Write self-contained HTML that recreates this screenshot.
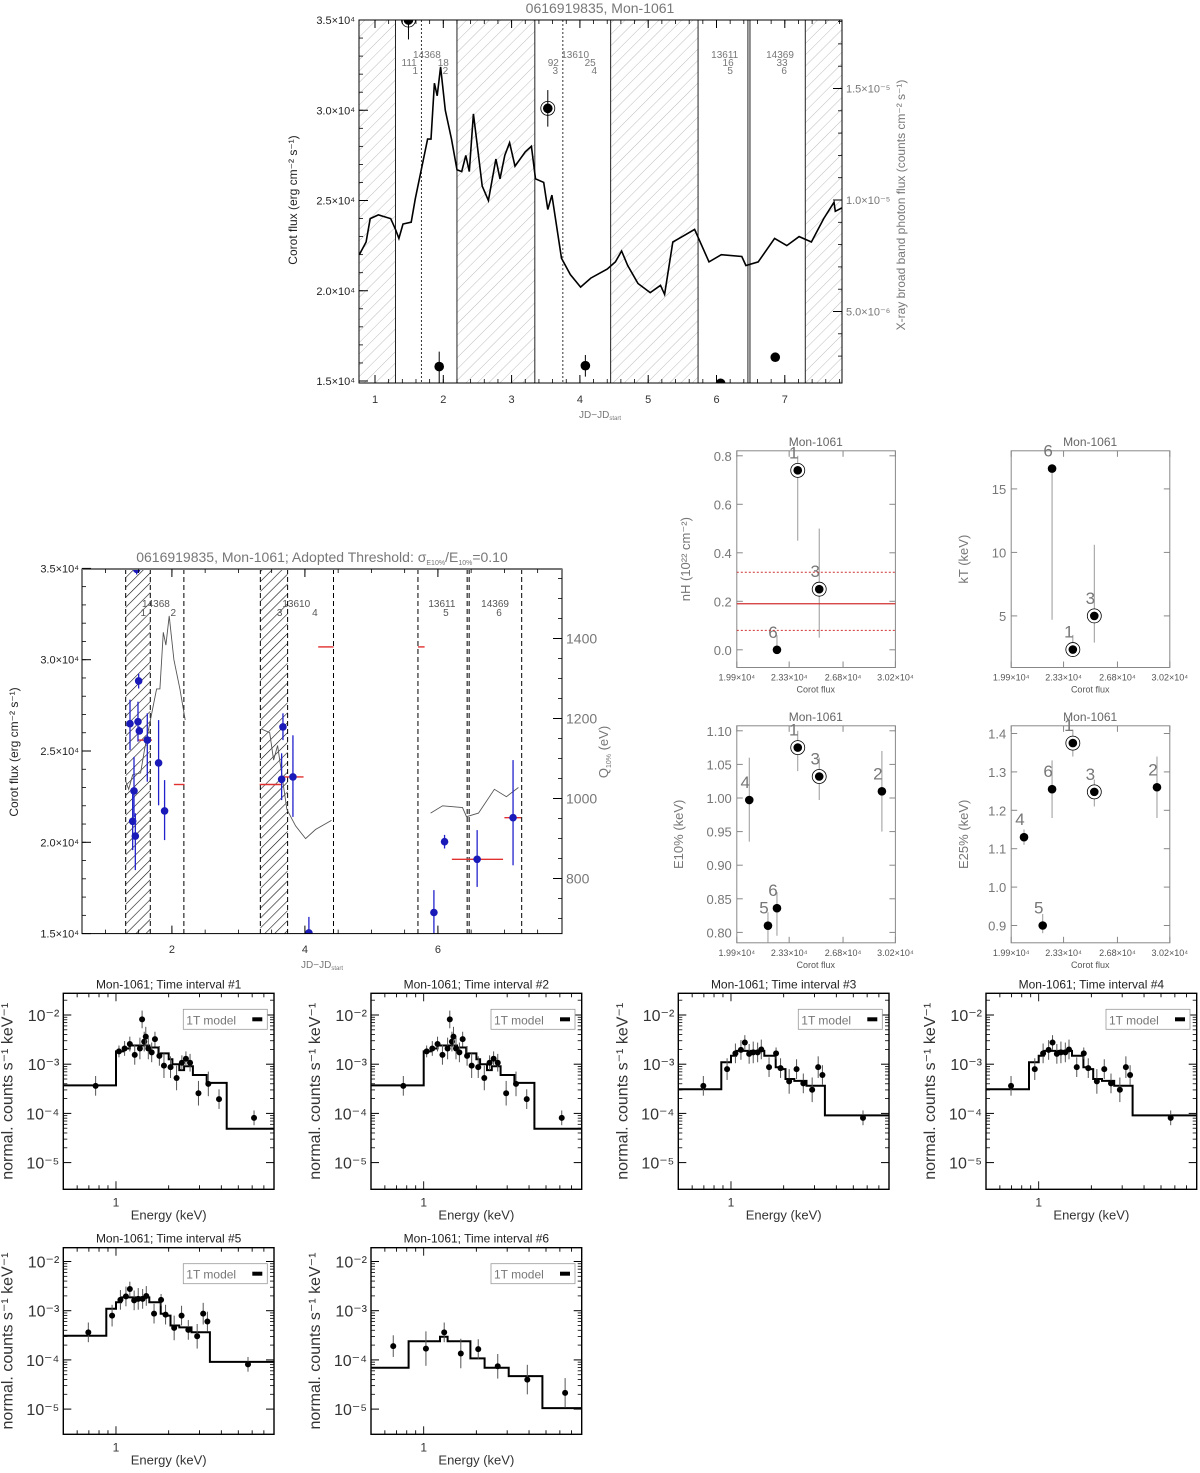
<!DOCTYPE html>
<html><head><meta charset="utf-8">
<style>
body{margin:0;background:#fff}
svg{display:block;font-family:"Liberation Sans","DejaVu Sans",sans-serif}
</style></head>
<body>
<svg id="fig" xmlns="http://www.w3.org/2000/svg" width="1200" height="1473" viewBox="0 0 1200 1473">
<defs>
<pattern id="hatchLight" patternUnits="userSpaceOnUse" width="8" height="8" patternTransform="rotate(45)">
<line x1="0" y1="0" x2="0" y2="8" stroke="#bdbdbd" stroke-width="1"/>
</pattern>
<pattern id="hatchDark" patternUnits="userSpaceOnUse" width="7" height="7" patternTransform="rotate(45)">
<line x1="0" y1="0" x2="0" y2="7" stroke="#111" stroke-width="1.2"/>
</pattern>
<clipPath id="clipTop"><rect x="359" y="20" width="483" height="363"/></clipPath>
<clipPath id="clipMid"><rect x="82" y="569" width="480" height="365"/></clipPath>
</defs>
</svg>
<script>
// ---------- DATA: top light curve ----------
const lcDays=[0.77,0.87,0.93,1.05,1.23,1.30,1.35,1.41,1.53,1.59,1.65,1.71,1.77,1.82,1.87,1.91,1.96,2.03,2.12,2.20,2.27,2.33,2.38,2.44,2.50,2.57,2.66,2.77,2.83,2.90,2.97,3.05,3.20,3.29,3.35,3.47,3.53,3.59,3.73,3.86,4.01,4.16,4.40,4.52,4.61,4.70,4.85,5.03,5.18,5.24,5.36,5.50,5.68,5.89,6.07,6.37,6.43,6.61,6.85,7.03,7.21,7.39,7.57,7.72,7.74,7.84];
const lcFlux=[22000,22700,24000,24200,24000,23400,22900,23700,23800,25100,26200,27300,28400,28400,31500,30800,32400,30000,28400,26700,26600,27500,26600,29800,28000,25800,25000,27300,26200,27500,28200,26900,27700,28000,26200,26000,24500,25300,21800,20900,20200,20700,21200,21600,22200,21400,20400,19900,20300,19800,22700,23000,23400,21600,22000,21900,21400,21600,22900,22500,23000,22700,24000,24900,24400,24600];
const topHatch=[[0.77,1.30],[2.20,3.34],[4.45,5.73],[7.30,7.9]];
const topSolid=[1.30,2.20,3.34,4.45,5.73,6.46,6.49,7.30];
const topDotted=[1.68,3.75];
const xrDays=[1.49,1.94,3.53,4.08,6.06,6.86];
const xrVal=[18.07,2.53,14.11,2.57,1.78,2.95]; // units 1e-6
const xrLo=[17.2,1.79,13.29,2.08,1.78,2.95];
const xrHi=[18.97,3.2,14.93,3.05,1.78,2.95];
const xrCircled=[1,0,1,0,0,0];
const obsIds=["14368","13610","13611","14369"];
const obsIdDays=[1.76,3.93,6.12,6.93];
const cntLabels=["111","18","92","25","16","33"];
const cntDays=[1.50,2.00,3.61,4.15,6.17,6.96];
const intLabels=["1","2","3","4","5","6"];
const intDays=[1.59,2.03,3.64,4.21,6.20,6.99];
const topXTicks=[1,2,3,4,5,6,7];
const leftTicks=[35000,30000,25000,20000,15000];
const leftTickLabels=["3.5×10⁴","3.0×10⁴","2.5×10⁴","2.0×10⁴","1.5×10⁴"];
const rightTicks=[15,10,5];
const rightTickLabels=["1.5×10⁻⁵","1.0×10⁻⁵","5.0×10⁻⁶"];

// ---------- DATA: middle plot ----------
const midHatch=[[1.305,1.675],[3.33,3.74]];
const midDashed=[1.305,1.675,2.18,3.33,3.74,4.43,5.70,6.44,6.47,7.26];
const midSegments=[[1.30,2.20],[3.34,4.45],[5.73,7.30]];
const qDays=[1.47,1.50,1.37,1.49,1.51,1.63,1.43,1.41,1.45,1.80,1.89,3.67,3.65,3.82,4.06,5.94,6.10,6.59,7.13];
const qVal=[1573,1294,1187,1192,1169,1146,1019,943,906,1089,969,1179,1048,1054,664,715,892,848,952];
const qLo=[1560,1275,1121,1142,1160,1042,954,871,821,983,896,1146,996,954,663,663,875,779,833];
const qHi=[1573,1312,1247,1242,1180,1213,1104,1013,963,1196,1046,1213,1113,1158,704,771,909,921,1096];
const redStart=[1.49,2.03,3.32,3.69,4.20,5.70,6.21,7.00];
const redEnd=[1.70,2.19,3.66,3.98,4.43,5.80,6.98,7.25];
const redVal=[1146,1035,1035,1054,1379,1379,848,952];
const midXTicks=[2,4,6];
const midRightTicks=[1400,1200,1000,800];
const midObsDays=[1.76,3.87,6.06,6.86];
const midIntDays=[1.57,2.02,3.62,4.15,6.12,6.92];

// ---------- DATA: scatter plots ----------
const nhFlux=[23858,25253,22508];
const nhVal=[0.74,0.25,0.0];
const nhLo=[0.45,0.05,0.0];
const nhHi=[0.80,0.50,0.06];
const nhLab=["1","3","6"];
const nhCirc=[1,1,0];
const ktFlux=[22554,23903,25297];
const ktVal=[16.6,2.35,5.0];
const ktLo=[4.7,1.9,2.9];
const ktHi=[16.6,3.5,10.6];
const ktLab=["6","1","3"];
const ktCirc=[0,1,1];
const e10Flux=[20710,21924,22508,23858,25253,29323];
const e10Val=[0.997,0.81,0.836,1.075,1.032,1.01];
const e10Lo=[0.935,0.77,0.795,1.04,0.997,0.95];
const e10Hi=[1.06,0.83,0.86,1.10,1.06,1.07];
const e10Lab=["4","5","6","1","3","2"];
const e10Circ=[0,0,0,1,1,0];
const e25Flux=[20732,21946,22554,23903,25297,29367];
const e25Val=[1.13,0.90,1.255,1.375,1.248,1.26];
const e25Lo=[1.11,0.88,1.18,1.34,1.21,1.18];
const e25Hi=[1.15,0.93,1.33,1.41,1.28,1.34];
const e25Lab=["4","5","6","1","3","2"];
const e25Circ=[0,0,0,1,1,0];
const fluxTicks=[19900,23300,26800,30200];
const fluxTickLabels=["1.99×10⁴","2.33×10⁴","2.68×10⁴","3.02×10⁴"];

// ---------- DATA: spectra ----------
const specAE=[0.765,1.04,1.12,1.20,1.28,1.37,1.41,1.45,1.48,1.53,1.60,1.67,1.77,1.88,2.05,2.22,2.38,2.51,2.65,2.96,3.37,3.88,6.15];
const specAV=[-3.44,-2.74,-2.68,-2.59,-2.81,-2.68,-2.09,-2.54,-2.44,-2.68,-2.76,-2.49,-2.83,-3.03,-3.06,-3.28,-2.97,-2.89,-2.97,-3.59,-3.40,-3.71,-4.09];
const specAErr=[0.2,0.12,0.15,0.15,0.2,0.22,0.18,0.2,0.2,0.22,0.2,0.15,0.2,0.25,0.22,0.25,0.15,0.15,0.18,0.25,0.25,0.2,0.15];
const specAEdges=[0.5,1.0,1.1,1.2,1.55,1.75,2.0,2.1,2.3,2.45,2.75,3.3,4.29,8];
const specAModel=[-3.43,-2.74,-2.68,-2.62,-2.66,-2.78,-2.9,-3.0,-3.12,-3.04,-3.22,-3.38,-4.31];
const specBE=[0.695,0.95,1.06,1.14,1.20,1.27,1.34,1.42,1.49,1.65,1.81,1.92,2.15,2.37,2.59,2.91,3.15,3.33,5.68];
const specBV=[-3.44,-3.10,-2.78,-2.71,-2.56,-2.79,-2.76,-2.76,-2.70,-3.06,-2.78,-3.08,-3.35,-3.10,-3.39,-3.52,-3.06,-3.22,-4.09];
const specBErr=[0.2,0.22,0.2,0.2,0.15,0.2,0.22,0.2,0.2,0.2,0.12,0.2,0.25,0.2,0.2,0.25,0.22,0.2,0.15];
const specBEdges=[0.5,0.88,1.0,1.07,1.55,1.8,1.95,2.05,2.3,2.7,3.44,8];
const specBModel=[-3.51,-2.96,-2.83,-2.73,-2.83,-3.06,-3.10,-3.30,-3.34,-3.44,-4.04];
const specCE=[0.67,1.03,1.31,1.63,2.05,2.65,3.91,6.43];
const specCV=[-3.72,-3.77,-3.44,-3.87,-3.78,-4.13,-4.40,-4.67];
const specCErr=[0.22,0.35,0.2,0.3,0.2,0.25,0.3,0.3];
const specCEdges=[0.5,0.82,1.24,1.37,1.85,2.23,3.06,4.77,8];
const specCModel=[-4.16,-3.62,-3.53,-3.62,-3.97,-4.16,-4.33,-4.98];
const specLogTicks=[-2,-3,-4,-5];
const specTickLabels=["10⁻²","10⁻³","10⁻⁴","10⁻⁵"];

// ---------- helpers ----------
const NS="http://www.w3.org/2000/svg";
const svg=document.getElementById('fig');
function el(tag,attrs,name,parent){
  const e=document.createElementNS(NS,tag);
  for(const k in attrs) e.setAttribute(k,attrs[k]);
  
  
  (parent||svg).appendChild(e);
  return e;
}
function txt(x,y,s,size,fill,anchor,name,rot,parent){
  const a={x:x,y:y,'font-size':size,fill:fill,'text-anchor':anchor||'middle'};
  if(rot) a.transform='rotate('+rot+' '+x+' '+y+')';
  const t=el('text',a,name,parent);
  t.textContent=s;
  return t;
}
function line(x1,y1,x2,y2,stroke,w,name,dash,parent){
  const a={x1:x1,y1:y1,x2:x2,y2:y2,stroke:stroke,'stroke-width':w||1};
  if(dash) a['stroke-dasharray']=dash;
  return el('line',a,name,parent);
}

// ================= TOP PLOT =================
(function(){
  const g=el('g',{},'top-lightcurve-chart');
  const L=359,R=842,T=20,B=383;
  const tx=d=>306.7+68.3*d;
  const ty=f=>381-(f-15000)*0.01805;
  const tyR=v=>200-(v-10)*22.3;
  const cg=el('g',{'clip-path':'url(#clipTop)'},'top-plot-area',g);
  topHatch.forEach(h=>{
    el('rect',{x:tx(h[0]),y:T,width:tx(h[1])-tx(h[0]),height:B-T,fill:'url(#hatchLight)'},'gap-hatch-region',cg);
  });
  topSolid.forEach(d=>line(tx(d),T,tx(d),B,'#222',1,'interval-boundary',null,cg));
  topDotted.forEach(d=>line(tx(d),T,tx(d),B,'#333',1,'obs-split-line','2,2',cg));
  let pts=lcDays.map((d,i)=>tx(d).toFixed(1)+','+ty(lcFlux[i]).toFixed(1)).join(' ');
  el('polyline',{points:pts,fill:'none',stroke:'#000','stroke-width':1.6},'corot-light-curve',cg);
  xrDays.forEach((d,i)=>{
    const x=tx(d);
    line(x,tyR(xrHi[i]),x,tyR(xrLo[i]),'#000',1,'xray-error-bar',null,cg);
    if(xrCircled[i]) el('circle',{cx:x,cy:tyR(xrVal[i]),r:7,fill:'none',stroke:'#000','stroke-width':0.8},'xray-point-ring',cg);
    el('circle',{cx:x,cy:tyR(xrVal[i]),r:4.8,fill:'#000'},'xray-flux-point',cg);
  });
  el('rect',{x:L,y:T,width:R-L,height:B-T,fill:'none',stroke:'#000','stroke-width':1},'top-frame',g);
  txt(600,13,'0616919835, Mon-1061',14,'#777','middle','top-title',0,g);
  topXTicks.forEach(d=>{
    line(tx(d),B,tx(d),B-8,'#000',1,'x-tick',null,g);
    line(tx(d),T,tx(d),T+8,'#000',1,'x-tick',null,g);
    txt(tx(d),403,String(d),11,'#333','middle','x-tick-label',0,g);
  });
  for(let d=1;d<8;d+=0.2){ line(tx(d),B,tx(d),B-4,'#000',0.8,'x-minor-tick',null,g); line(tx(d),T,tx(d),T+4,'#000',0.8,'x-minor-tick',null,g);}
  const xl=txt(600,418,'JD−JD',10,'#777','middle','x-axis-title',0,g);
  const sub=document.createElementNS(NS,'tspan'); sub.setAttribute('font-size','6'); sub.setAttribute('dy','2'); sub.textContent='start'; xl.appendChild(sub);
  leftTicks.forEach((f,i)=>{
    line(L,ty(f),L+9,ty(f),'#000',1,'y-tick',null,g);
    txt(355,ty(f)+4,leftTickLabels[i],11,'#222','end','y-tick-label',0,g);
  });
  for(let f=16000;f<35000;f+=1000) line(L,ty(f),L+4,ty(f),'#000',0.8,'y-minor-tick',null,g);
  rightTicks.forEach((v,i)=>{
    line(R,tyR(v),R-9,tyR(v),'#000',1,'y2-tick',null,g);
    txt(846,tyR(v)+4,rightTickLabels[i],11,'#777','start','y2-tick-label',0,g);
  });
  for(let v=3;v<19;v+=1) line(R,tyR(v),R-4,tyR(v),'#000',0.8,'y2-minor-tick',null,g);
  txt(297,200,'Corot flux (erg cm⁻² s⁻¹)',12,'#222','middle','y-axis-title',-90,g);
  txt(905,205,'X-ray broad band photon flux (counts cm⁻² s⁻¹)',12,'#777','middle','y2-axis-title',-90,g);
  obsIds.forEach((s,i)=>txt(tx(obsIdDays[i]),58,s,10,'#777','middle','obsid-label',0,g));
  cntLabels.forEach((s,i)=>txt(tx(cntDays[i]),66,s,10,'#777','middle','count-label',0,g));
  intLabels.forEach((s,i)=>txt(tx(intDays[i]),74,s,10,'#777','middle','interval-label',0,g));
})();

// ================= MIDDLE PLOT =================
(function(){
  const g=el('g',{},'q10-chart');
  const L=82,R=562,T=569,B=933.6;
  const mx=d=>38.9+66.5*d;
  const my=f=>933.6-(f-15000)*0.01826;
  const myR=e=>798.5-(e-1000)*0.4;
  const cg=el('g',{'clip-path':'url(#clipMid)'},'q10-plot-area',g);
  midHatch.forEach(h=>{
    el('rect',{x:mx(h[0]),y:T,width:mx(h[1])-mx(h[0]),height:B-T,fill:'url(#hatchDark)'},'hatch-region',cg);
  });
  midDashed.forEach(d=>line(mx(d),T,mx(d),B,'#000',1,'interval-boundary','5,3',cg));
  midSegments.forEach(s=>{
    const p=[];
    lcDays.forEach((d,i)=>{ if(d>=s[0]&&d<=s[1]) p.push(mx(d).toFixed(1)+','+my(lcFlux[i]).toFixed(1)); });
    el('polyline',{points:p.join(' '),fill:'none',stroke:'#555','stroke-width':0.9},'corot-segment',cg);
  });
  redVal.forEach((v,i)=>line(mx(redStart[i]),myR(v),mx(redEnd[i]),myR(v),'#e03030',1.4,'median-energy-bar',null,cg));
  qDays.forEach((d,i)=>{
    line(mx(d),myR(qHi[i]),mx(d),myR(qLo[i]),'#2222cc',1.3,'q10-error-bar',null,cg);
    el('circle',{cx:mx(d),cy:myR(qVal[i]),r:3.8,fill:'#1a1ab8'},'q10-point',cg);
  });
  el('rect',{x:L,y:T,width:R-L,height:B-T,fill:'none',stroke:'#000','stroke-width':1},'q10-frame',g);
  line(L,T,R,T,'#777',2,'q10-frame-top',null,g);
  const t=txt(322,562,'0616919835, Mon-1061; Adopted Threshold: σ',14,'#777','middle','q10-title',0,g);
  const s1=document.createElementNS(NS,'tspan'); s1.setAttribute('font-size','7'); s1.setAttribute('dy','3'); s1.textContent='E10%'; t.appendChild(s1);
  const s2=document.createElementNS(NS,'tspan'); s2.setAttribute('dy','-3'); s2.textContent='/E'; t.appendChild(s2);
  const s3=document.createElementNS(NS,'tspan'); s3.setAttribute('font-size','7'); s3.setAttribute('dy','3'); s3.textContent='10%'; t.appendChild(s3);
  const s4=document.createElementNS(NS,'tspan'); s4.setAttribute('dy','-3'); s4.textContent='=0.10'; t.appendChild(s4);
  midXTicks.forEach(d=>{
    line(mx(d),B,mx(d),B-8,'#000',1,'x-tick',null,g);
    line(mx(d),T,mx(d),T+8,'#000',1,'x-tick',null,g);
    txt(mx(d),953,String(d),11,'#333','middle','x-tick-label',0,g);
  });
  for(let d=1;d<8;d+=0.5){ line(mx(d),B,mx(d),B-4,'#000',0.8,'x-minor-tick',null,g); line(mx(d),T,mx(d),T+4,'#000',0.8,'x-minor-tick',null,g);}
  const xl=txt(322,968,'JD−JD',10,'#777','middle','x-axis-title',0,g);
  const sub=document.createElementNS(NS,'tspan'); sub.setAttribute('font-size','6'); sub.setAttribute('dy','2'); sub.textContent='start'; xl.appendChild(sub);
  leftTicks.forEach((f,i)=>{
    line(L,my(f),L+9,my(f),'#000',1,'y-tick',null,g);
    txt(79,my(f)+4,leftTickLabels[i],11,'#222','end','y-tick-label',0,g);
  });
  for(let f=16000;f<35000;f+=1000) line(L,my(f),L+4,my(f),'#000',0.8,'y-minor-tick',null,g);
  midRightTicks.forEach(v=>{
    line(R,myR(v),R-9,myR(v),'#000',1,'y2-tick',null,g);
    txt(566,myR(v)+5,String(v),14,'#777','start','y2-tick-label',0,g);
  });
  for(let v=700;v<1600;v+=50) line(R,myR(v),R-4,myR(v),'#000',0.8,'y2-minor-tick',null,g);
  txt(18,752,'Corot flux (erg cm⁻² s⁻¹)',12,'#222','middle','y-axis-title',-90,g);
  const ql=txt(608,752,'Q',13,'#777','middle','y2-axis-title',-90,g);
  const qs=document.createElementNS(NS,'tspan'); qs.setAttribute('font-size','7'); qs.setAttribute('dy','3'); qs.textContent='10%'; ql.appendChild(qs);
  const qe=document.createElementNS(NS,'tspan'); qe.setAttribute('dy','-3'); qe.textContent=' (eV)'; ql.appendChild(qe);
  obsIds.forEach((s,i)=>txt(mx(midObsDays[i]),607,s,10,'#555','middle','obsid-label',0,g));
  intLabels.forEach((s,i)=>txt(mx(midIntDays[i]),616,s,10,'#555','middle','interval-label',0,g));
})();

// ================= SCATTER PLOTS =================
function scatter(name,L,T,B,yfn,flux,val,lo,hi,lab,circ,yTicks,yTickLabels,ytitle,ytx){
  const g=el('g',{},name);
  const R=L+158.6;
  const sx=f=>L+(f-19900)/10300*158.6;
  el('rect',{x:L,y:T,width:R-L,height:B-T,fill:'none',stroke:'#888','stroke-width':1},name+'-frame',g);
  txt(L+79,T-5,'Mon-1061',12,'#666','middle',name+'-title',0,g);
  fluxTicks.forEach((f,i)=>{
    line(sx(f),B,sx(f),B-6,'#888',1,'x-tick',null,g);
    line(sx(f),T,sx(f),T+6,'#888',1,'x-tick',null,g);
    txt(sx(f),B+13,fluxTickLabels[i],9,'#555','middle','x-tick-label',0,g);
  });
  txt(L+79,B+25,'Corot flux',9,'#555','middle','x-axis-title',0,g);
  yTicks.forEach((v,i)=>{
    line(L,yfn(v),L+6,yfn(v),'#888',1,'y-tick',null,g);
    line(R,yfn(v),R-6,yfn(v),'#888',1,'y-tick',null,g);
    txt(L-5,yfn(v)+5,yTickLabels[i],13,'#777','end','y-tick-label',0,g);
  });
  txt(ytx,(T+B)/2,ytitle,13,'#777','middle','y-axis-title',-90,g);
  flux.forEach((f,i)=>{
    const x=sx(f);
    line(x,Math.max(T,yfn(hi[i])),x,Math.min(B,yfn(lo[i])),'#999',1,'error-bar',null,g);
    if(circ[i]) el('circle',{cx:x,cy:yfn(val[i]),r:7,fill:'#fff',stroke:'#000','stroke-width':0.8},'point-ring',g);
    el('circle',{cx:x,cy:yfn(val[i]),r:4.3,fill:'#000'},'data-point',g);
    txt(x-4,yfn(val[i])-12,lab[i],17,'#777','middle','point-label',0,g);
  });
  return g;
}
const nhG=scatter('nh-vs-flux',736.8,450.8,667.5,v=>649.8-v*242.5,nhFlux,nhVal,nhLo,nhHi,nhLab,nhCirc,[0.8,0.6,0.4,0.2,0.0],["0.8","0.6","0.4","0.2","0.0"],'nH (10²² cm⁻²)',690);
(function(){
  const y=v=>649.8-v*242.5;
  line(736.8,y(0.19),895.4,y(0.19),'#d03030',1.2,'nh-mean-line',null,nhG);
  line(736.8,y(0.32),895.4,y(0.32),'#d03030',1,'nh-upper-line','2,2',nhG);
  line(736.8,y(0.08),895.4,y(0.08),'#d03030',1,'nh-lower-line','2,2',nhG);
})();
scatter('kt-vs-flux',1011.2,450.8,667.5,v=>615.9-(v-5)*12.7,ktFlux,ktVal,ktLo,ktHi,ktLab,ktCirc,[15,10,5],["15","10","5"],'kT (keV)',968);
scatter('e10-vs-flux',736.8,725.8,942.8,v=>932.4-(v-0.80)*672,e10Flux,e10Val,e10Lo,e10Hi,e10Lab,e10Circ,[1.10,1.05,1.00,0.95,0.90,0.85,0.80],["1.10","1.05","1.00","0.95","0.90","0.85","0.80"],'E10% (keV)',683);
scatter('e25-vs-flux',1011.2,725.8,942.8,v=>925.5-(v-0.9)*384,e25Flux,e25Val,e25Lo,e25Hi,e25Lab,e25Circ,[1.4,1.3,1.2,1.1,1.0,0.9],["1.4","1.3","1.2","1.1","1.0","0.9"],'E25% (keV)',968);

// ================= SPECTRA =================
function spectrum(idx,L,T,B,y2,E,V,Err,edges,model){
  const g=el('g',{},'spectrum-panel-'+idx);
  const W=210.7;
  const sx=e=>L+175*Math.log10(e/0.5);
  const sy=lv=>y2-(lv+2)*49.2;
  el('rect',{x:L,y:T,width:W,height:B-T,fill:'none',stroke:'#000','stroke-width':1.4},'spectrum-frame',g);
  txt(L+W/2,T-5,'Mon-1061; Time interval #'+idx,12,'#222','middle','spectrum-title',0,g);
  specLogTicks.forEach((lv,i)=>{
    line(L,sy(lv),L+8,sy(lv),'#000',1,'y-tick',null,g);
    line(L+W,sy(lv),L+W-8,sy(lv),'#000',1,'y-tick',null,g);
    for(let m=2;m<10;m++){ const yy=sy(lv+Math.log10(m)); if(yy>T&&yy<B){ line(L,yy,L+4,yy,'#000',0.8,'y-minor-tick',null,g); line(L+W,yy,L+W-4,yy,'#000',0.8,'y-minor-tick',null,g);} }
    txt(L-4,sy(lv)+6,specTickLabels[i],16,'#333','end','y-tick-label',0,g);
  });
  [0.6,0.7,0.8,0.9,1,2,3,4,5,6,7].forEach(e=>{
    const h=e===1?8:4;
    line(sx(e),B,sx(e),B-h,'#000',0.9,'x-tick',null,g);
    line(sx(e),T,sx(e),T+h,'#000',0.9,'x-tick',null,g);
  });
  txt(sx(1),B+17,'1',12,'#333','middle','x-tick-label',0,g);
  txt(L+W/2,B+30,'Energy (keV)',13,'#333','middle','x-axis-title',0,g);
  txt(L-51,(T+B)/2,'normal. counts s⁻¹ keV⁻¹',16,'#333','middle','y-axis-title',-90,g);
  let d='';
  model.forEach((v,i)=>{
    const x0=sx(edges[i]),x1=sx(edges[i+1]),y=sy(v);
    d+=(i===0?'M':'L')+x0.toFixed(1)+','+y.toFixed(1)+' L'+x1.toFixed(1)+','+y.toFixed(1)+' ';
  });
  el('path',{d:d,fill:'none',stroke:'#000','stroke-width':2},'model-step-line',g);
  E.forEach((e,i)=>{
    line(sx(e),sy(V[i]+Err[i]),sx(e),sy(V[i]-Err[i]),'#555',1,'data-error-bar',null,g);
    el('circle',{cx:sx(e),cy:sy(V[i]),r:3,fill:'#000'},'data-point',g);
  });
  el('rect',{x:L+120,y:T+16,width:84,height:20,fill:'#fff',stroke:'#999','stroke-width':0.8},'legend-box',g);
  txt(L+123,T+31,'1T model',12,'#777','start','legend-entry',0,g);
  el('rect',{x:L+189,y:T+24,width:10,height:4,fill:'#000'},'legend-swatch',g);
}
const colL=[63.3,371,678.3,986];
spectrum(1,colL[0],993.3,1189.3,1015,specAE,specAV,specAErr,specAEdges,specAModel);
spectrum(2,colL[1],993.3,1189.3,1015,specAE,specAV,specAErr,specAEdges,specAModel);
spectrum(3,colL[2],993.3,1189.3,1015,specBE,specBV,specBErr,specBEdges,specBModel);
spectrum(4,colL[3],993.3,1189.3,1015,specBE,specBV,specBErr,specBEdges,specBModel);
spectrum(5,colL[0],1247.7,1434.3,1261.5,specBE,specBV,specBErr,specBEdges,specBModel);
spectrum(6,colL[1],1247.7,1434.3,1261.5,specCE,specCV,specCErr,specCEdges,specCModel);
</script>
</body></html>
